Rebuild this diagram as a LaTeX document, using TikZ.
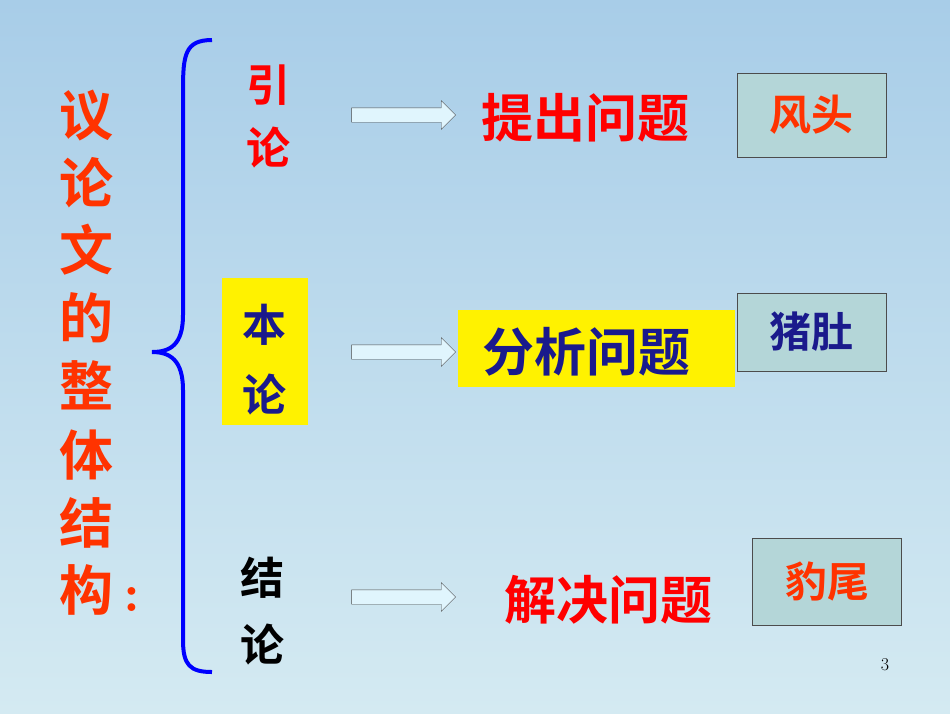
\documentclass[tikz,border=0pt]{standalone}
\usepackage{fontspec}
\newfontfamily\cjk{Noto Sans CJK SC}
\newfontfamily\cjkb{Noto Sans CJK SC Bold}
\usetikzlibrary{shapes.arrows}
\definecolor{org}{HTML}{FF3300}
\definecolor{dblue}{HTML}{1A1A8C}
\definecolor{boxc}{HTML}{B4D6D8}
\definecolor{bgtop}{HTML}{A8CDE8}
\definecolor{bgbot}{HTML}{D4EAF2}
\tikzset{
 big/.style={font=\cjkb\fontsize{54}{54}\selectfont, inner sep=0pt},
 mid/.style={font=\cjkb\fontsize{52}{52}\selectfont, inner sep=0pt},
 side/.style={font=\cjkb\fontsize{44}{44}\selectfont, inner sep=0pt},
 lab/.style={draw=black!70, fill=boxc, minimum width=149pt, minimum height=84pt, font=\cjkb\fontsize{42}{42}\selectfont},
 harrow/.style={single arrow, draw=black!70, fill=cyan!12, minimum width=26pt, single arrow tip angle=90, minimum height=104pt, inner xsep=0pt, inner ysep=7pt}
}
\begin{document}
\begin{tikzpicture}[x=1pt,y=-1pt]
\shade[top color=bgtop, bottom color=bgbot] (0,0) rectangle (950,713);
\useasboundingbox (0,0) rectangle (950,713);
% left title
\foreach \c/\y [count=\i] in {议/115,论/183,文/250,的/318,整/385,体/455,结/523,构/590}
  \node[big, text=org] (t\i) at (86,\y) {\c};
\node[font=\bfseries\fontsize{54}{54}\selectfont, text=org, inner sep=0pt] (colon) at (132,600) {:};
% brace
\draw[blue, line width=4pt] (212,40) .. controls (185,40) and (183,55) .. (183,90) -- (183,315) .. controls (183,345) and (170,352) .. (152,352) .. controls (170,352) and (183,360) .. (183,390) -- (183,640) .. controls (183,665) and (190,672) .. (212,672);
% sides
\node[side, text=red] (y1) at (268,85) {引};
\node[side, text=red] (y2) at (268,148) {论};
\fill[yellow] (222,278) rectangle (308,425);
\node[side, text=dblue] (b1) at (264,325) {本};
\node[side, text=dblue] (b2) at (264,395) {论};
\node[side, text=black] (j1) at (262,578) {结};
\node[side, text=black] (j2) at (262,645) {论};
% arrows
\node[harrow] (a1) at (400,115) {};
\node[harrow] (a2) at (400,352) {};
\node[harrow] (a3) at (400,597) {};
% middle
\node[mid, text=red] (m1) at (585,118) {提出问题};
\fill[yellow] (458,310) rectangle (735,387);
\node[mid, text=dblue] (m2) at (586,352) {分析问题};
\node[mid, text=red] (m3) at (608,600) {解决问题};
% boxes
\node[lab, text=org] (f) at (811.5,115) {风头};
\node[lab, text=dblue, minimum height=78pt] (z) at (811.5,332) {猪肚};
\node[lab, text=org, minimum height=87pt] (w) at (827,581.5) {豹尾};
\node[font=\fontsize{18}{18}\selectfont] (n) at (885,665) {3};
\end{tikzpicture}
\end{document}
